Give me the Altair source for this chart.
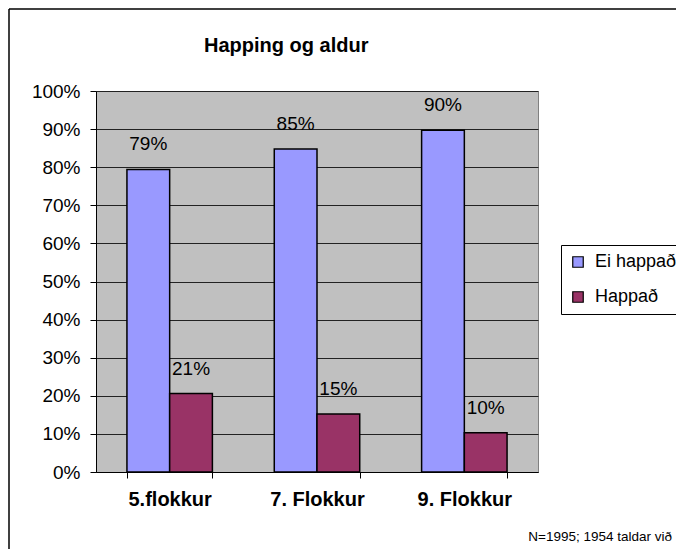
import altair as alt
import pandas as pd

categories = ["5.flokkur", "7. Flokkur", "9. Flokkur"]
series = ["Ei happað", "Happað"]
ei_happad = [0.794, 0.848, 0.897]
happad = [0.206, 0.152, 0.103]
y_ticks = [0.0, 0.1, 0.2, 0.3, 0.4, 0.5, 0.6, 0.7, 0.8, 0.9, 1.0]
colors = ["#9999FF", "#993366"]
title_text = "Happing og aldur"
note_text = "N=1995; 1954 taldar við"

FONT = "Liberation Sans"
W, H = 442, 381

rows = []
for c, a, b in zip(categories, ei_happad, happad):
    rows.append({"cat": c, "series": series[0], "value": a})
    rows.append({"cat": c, "series": series[1], "value": b})
df = pd.DataFrame(rows)

base = alt.Chart(df)

x = alt.X(
    "cat:N",
    sort=categories,
    scale=alt.Scale(paddingInner=0.42, paddingOuter=0.21),
    axis=alt.Axis(
        title=None, labelAngle=0, labelFont=FONT, labelFontSize=20,
        labelFontWeight="bold", labelColor="black", domainColor="black",
        domainWidth=1, tickColor="black", tickSize=6, tickBand="extent",
        labelPadding=11, grid=False,
    ),
)
xo = alt.XOffset("series:N", sort=series, scale=alt.Scale(paddingInner=0, paddingOuter=0))
y = alt.Y(
    "value:Q",
    scale=alt.Scale(domain=[0, 1], nice=False),
    axis=alt.Axis(
        values=y_ticks, format=".0%", title=None, labelFont=FONT,
        labelFontSize=19, labelColor="black", domainColor="black",
        tickColor="black", tickSize=6, labelPadding=10,
        gridColor="#222222", gridWidth=1,
    ),
)

bars = base.mark_bar(stroke="black", strokeWidth=1.5).encode(
    x=x, xOffset=xo, y=y,
    color=alt.Color(
        "series:N", sort=series,
        scale=alt.Scale(domain=series, range=colors),
        legend=alt.Legend(
            title=None, orient="none", legendX=465, legendY=154,
            strokeColor="black", padding=8, fillColor="white",
            symbolType="square", symbolSize=110, symbolStrokeColor="black",
            symbolStrokeWidth=1.2, labelFont=FONT, labelFontSize=18,
            labelColor="black", labelOffset=8, rowPadding=17,
        ),
    ),
)

labels = base.mark_text(
    baseline="alphabetic", dy=-19, fontSize=19, font=FONT, color="black"
).encode(x=x, xOffset=xo, y=y, text=alt.Text("value:Q", format=".0%"))

title = alt.Chart(pd.DataFrame({"t": [title_text]})).mark_text(
    align="left", baseline="alphabetic", fontSize=20, fontWeight="bold",
    font=FONT, color="black"
).encode(x=alt.value(108), y=alt.value(-39), text="t:N")

note = alt.Chart(pd.DataFrame({"t": [note_text]})).mark_text(
    align="right", baseline="middle", fontSize=13.5, font=FONT, color="black"
).encode(x=alt.value(576), y=alt.value(446), text="t:N")

frame_top = alt.Chart(pd.DataFrame({"k": [0]})).mark_rule(
    color="black", strokeWidth=1.5
).encode(x=alt.value(-87), x2=alt.value(620), y=alt.value(-82))
frame_left = alt.Chart(pd.DataFrame({"k": [0]})).mark_rule(
    color="black", strokeWidth=1.5
).encode(x=alt.value(-87), y=alt.value(-82), y2=alt.value(480))

chart = alt.layer(bars, labels, title, note, frame_top, frame_left).properties(
    width=W, height=H,
    autosize=alt.AutoSizeParams(type="none"),
    padding={"left": 88, "top": 83, "right": 138, "bottom": 77},
    background="white",
).configure_view(fill="#C0C0C0", stroke="#808080", strokeWidth=1)

chart.save("out.html", embed_options={"renderer": "svg", "actions": False})
